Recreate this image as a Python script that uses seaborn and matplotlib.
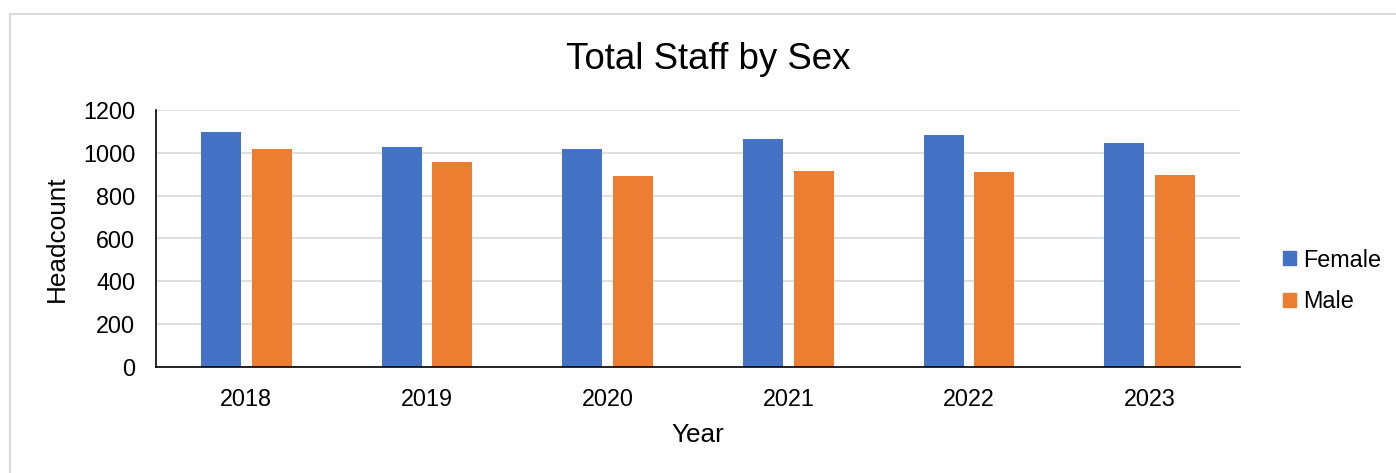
import pandas as pd
import matplotlib.pyplot as plt
import matplotlib.patches as mpatches
import seaborn as sns

# values
years = ["2018", "2019", "2020", "2021", "2022", "2023"]
female = [1096, 1028, 1019, 1063, 1083, 1046]
male = [1019, 957, 890, 915, 910, 898]
sexes = ["Female", "Male"]
colors = ["#4472C4", "#ED7D31"]

df = pd.DataFrame({
    "Year": years * 2,
    "Sex": ["Female"] * len(years) + ["Male"] * len(years),
    "Headcount": female + male,
})

sns.set_style("white")
plt.rcParams["font.family"] = ["Liberation Sans", "DejaVu Sans"]
plt.rcParams["text.color"] = "black"
plt.rcParams["axes.labelcolor"] = "black"

fig = plt.figure(figsize=(13.96, 4.73), dpi=100)
ax = fig.add_axes([156 / 1396, 1 - 367 / 473, (1240 - 156) / 1396, (367 - 110) / 473])

# light border around the chart area
border = mpatches.Rectangle((10 / 1396, -0.05), 1.2, 1 - 14 / 473 + 0.05,
                            transform=fig.transFigure, fill=False,
                            edgecolor="#d9d9d9", linewidth=1.5)
fig.patches.append(border)

sns.barplot(data=df, x="Year", y="Headcount", hue="Sex", hue_order=sexes,
            palette=colors, saturation=1, width=0.56, gap=0.21,
            linewidth=0, ax=ax)

ax.set_ylim(0, 1200)
ax.set_xlim(-0.5, 5.5)
ax.set_yticks(range(0, 1201, 200))
ax.yaxis.grid(True, color="#d9d9d9", linewidth=1.2)
ax.set_axisbelow(True)
for s in ["top", "right"]:
    ax.spines[s].set_visible(False)
for s in ["left", "bottom"]:
    ax.spines[s].set_color("black")
    ax.spines[s].set_linewidth(1.2)
ax.tick_params(axis="both", length=0, labelsize=16.8, pad=15, colors="black")

ax.set_xlabel("Year", fontsize=18.8, labelpad=9)
ax.set_ylabel("Headcount", fontsize=18.8, labelpad=10)

fig.text(708 / 1396, 1 - 69 / 473, "Total Staff by Sex", fontsize=26.4,
         ha="center", va="baseline")

ax.get_legend().remove()
handles = [mpatches.Patch(color=c, label=l) for c, l in zip(colors, sexes)]
fig.legend(handles=handles, loc="center left",
           bbox_to_anchor=(1262 / 1396, 1 - 281 / 473), frameon=False,
           fontsize=16.8, handlelength=0.55, handleheight=0.55,
           handletextpad=0.3, labelspacing=0.8)

fig.savefig("out.png", dpi=100)
